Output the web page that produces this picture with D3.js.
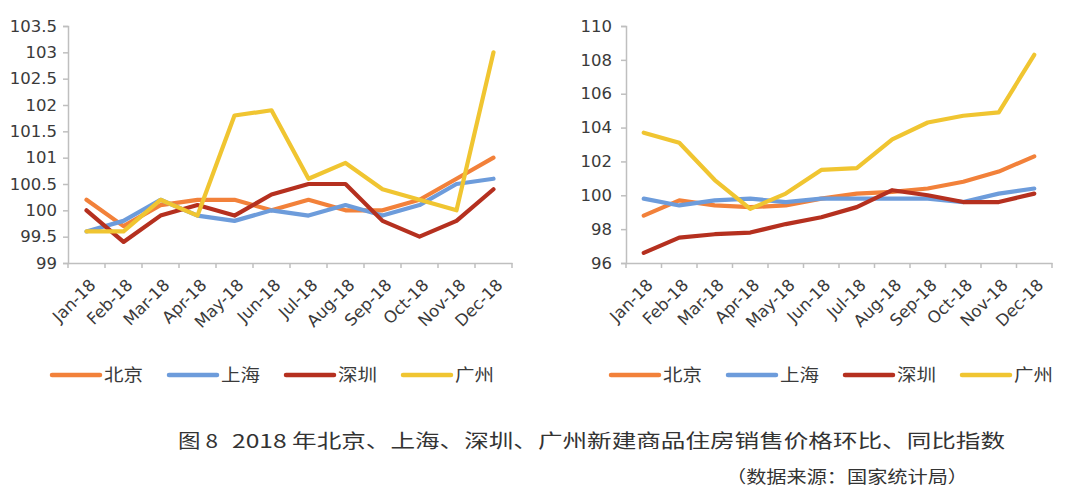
<!DOCTYPE html>
<html><head><meta charset="utf-8">
<script src="https://cdn.jsdelivr.net/npm/d3@7"></script>
<style>
html,body{margin:0;padding:0;background:#fff;}
svg{display:block;}
</style></head>
<body>
<svg id="chart" width="1080" height="497"></svg>
<script>
const months = ["Jan-18","Feb-18","Mar-18","Apr-18","May-18","Jun-18","Jul-18","Aug-18","Sep-18","Oct-18","Nov-18","Dec-18"];
const cities = ["北京","上海","深圳","广州"];
const cityColors = ["#F2813A","#6D9CDB","#B5301F","#F0C531"];

// 环比 (month-on-month)
const momBeijing   = [100.2, 99.7, 100.1, 100.2, 100.2, 100.0, 100.2, 100.0, 100.0, 100.2, 100.6, 101.0];
const momShanghai  = [99.6, 99.8, 100.2, 99.9, 99.8, 100.0, 99.9, 100.1, 99.9, 100.1, 100.5, 100.6];
const momShenzhen  = [100.0, 99.4, 99.9, 100.1, 99.9, 100.3, 100.5, 100.5, 99.8, 99.5, 99.8, 100.4];
const momGuangzhou = [99.6, 99.6, 100.2, 99.9, 101.8, 101.9, 100.6, 100.9, 100.4, 100.2, 100.0, 103.0];

// 同比 (year-on-year)
const yoyBeijing   = [98.8, 99.7, 99.4, 99.3, 99.4, 99.8, 100.1, 100.2, 100.4, 100.8, 101.4, 102.3];
const yoyShanghai  = [99.8, 99.4, 99.7, 99.8, 99.6, 99.8, 99.8, 99.8, 99.8, 99.6, 100.1, 100.4];
const yoyShenzhen  = [96.6, 97.5, 97.7, 97.8, 98.3, 98.7, 99.3, 100.3, 100.0, 99.6, 99.6, 100.1];
const yoyGuangzhou = [103.7, 103.1, 100.9, 99.2, 100.1, 101.5, 101.6, 103.3, 104.3, 104.7, 104.9, 108.3];

const leftTicks = [99, 99.5, 100, 100.5, 101, 101.5, 102, 102.5, 103, 103.5];
const rightTicks = [96, 98, 100, 102, 104, 106, 108, 110];

const captionText = "2018 年北京、上海、深圳、广州新建商品住房销售价格环比、同比指数";
const captionLabel = "图 8";
const sourceText = "（数据来源：国家统计局）";

const svg = d3.select("#chart");
const axisColor = "#BFBFBF";
const textColor = "#3A3A3A";
const tickFont = "'DejaVu Sans', sans-serif";
const cjkFont = "'Noto Sans CJK SC', sans-serif";

function drawPanel(cfg) {
  const g = svg.append("g");
  const x = d3.scaleBand().domain(months).range([cfg.x0, cfg.x1]);
  const y = d3.scaleLinear().domain(cfg.domain).range([cfg.yBottom, cfg.yTop]);

  // y axis
  const yAxis = g.append("g").attr("transform", `translate(${cfg.x0},0)`)
    .call(d3.axisLeft(y).tickValues(cfg.ticks).tickSize(5).tickPadding(cfg.pad).tickFormat(d => String(d)));
  yAxis.select(".domain").attr("stroke", axisColor).attr("stroke-width", 1.5);
  yAxis.selectAll(".tick line").attr("stroke", axisColor).attr("stroke-width", 1.5);
  yAxis.selectAll("text").attr("fill", textColor).style("font-size", "16.5px").style("font-family", tickFont);

  // x axis
  const xAxis = g.append("g").attr("transform", `translate(0,${cfg.yBottom})`)
    .call(d3.axisBottom(x).tickSize(0).tickFormat(""));
  xAxis.select(".domain").attr("stroke", axisColor).attr("stroke-width", 1.5);
  const bounds = months.map(m => x(m)).concat([cfg.x1]);
  xAxis.selectAll("line.bt").data(bounds).enter().append("line")
    .attr("class", "bt")
    .attr("x1", d => d).attr("x2", d => d).attr("y1", 0).attr("y2", 5)
    .attr("stroke", axisColor).attr("stroke-width", 1.5);
  xAxis.selectAll("text.xl").data(months).enter().append("text")
    .attr("class", "xl")
    .attr("transform", d => `translate(${x(d) + x.bandwidth() / 2 + 6},${19}) rotate(-45)`)
    .attr("text-anchor", "end")
    .attr("dy", "0.35em")
    .attr("fill", textColor)
    .style("font-size", "16.5px")
    .style("font-family", tickFont)
    .text(d => d);

  const line = d3.line()
    .x((d, i) => x(months[i]) + x.bandwidth() / 2)
    .y(d => y(d));

  cfg.series.forEach((s, i) => {
    g.append("path").datum(s)
      .attr("d", line)
      .attr("fill", "none")
      .attr("stroke", cityColors[i])
      .attr("stroke-width", 4.2)
      .attr("stroke-linejoin", "round")
      .attr("stroke-linecap", "round");
  });

  // legend
  const lg = g.append("g").attr("transform", `translate(${cfg.legendX},375)`);
  cities.forEach((c, i) => {
    const item = lg.append("g").attr("transform", `translate(${i * 117},0)`);
    item.append("line").attr("x1", 0).attr("x2", 48).attr("y1", 0).attr("y2", 0)
      .attr("stroke", cityColors[i]).attr("stroke-width", 4.5).attr("stroke-linecap", "round");
    item.append("text").attr("x", 52).attr("y", 0).attr("dy", "0.36em")
      .attr("fill", textColor).style("font-size", "17px").style("font-family", cjkFont)
      .attr("textLength", 39).attr("lengthAdjust", "spacingAndGlyphs")
      .text(c);
  });
}

drawPanel({
  x0: 68, x1: 512, yTop: 26, yBottom: 263, domain: [99, 103.5], ticks: leftTicks, pad: 6,
  series: [momBeijing, momShanghai, momShenzhen, momGuangzhou], legendX: 52
});
drawPanel({
  x0: 626, x1: 1052, yTop: 26, yBottom: 263, domain: [96, 110], ticks: rightTicks, pad: 9,
  series: [yoyBeijing, yoyShanghai, yoyShenzhen, yoyGuangzhou], legendX: 611
});

// caption
svg.append("text").attr("x", 178).attr("y", 448)
  .attr("fill", "#333").style("font-size", "19px").style("font-family", cjkFont)
  .attr("textLength", 40).attr("lengthAdjust", "spacingAndGlyphs")
  .text(captionLabel);
svg.append("text").attr("x", 232).attr("y", 448)
  .attr("fill", "#333").style("font-size", "19px").style("font-family", cjkFont)
  .attr("textLength", 773).attr("lengthAdjust", "spacingAndGlyphs")
  .text(captionText);
svg.append("text").attr("x", 726).attr("y", 483)
  .attr("fill", "#333").style("font-size", "17px").style("font-family", cjkFont)
  .attr("textLength", 242).attr("lengthAdjust", "spacingAndGlyphs")
  .text(sourceText);
</script>
</body></html>
